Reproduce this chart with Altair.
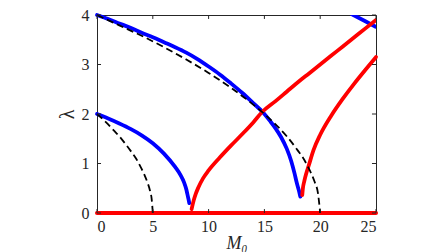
import altair as alt
import pandas as pd

# ---- data ----
blue_low_m = [0, 1, 2, 3, 4, 5, 6, 7, 7.5, 7.8, 8.0, 8.1, 8.2, 8.27]
blue_low_l = [2.0, 1.91, 1.81, 1.70, 1.57, 1.41, 1.20, 0.93, 0.76, 0.62, 0.48, 0.38, 0.28, 0.20]

blue_up_m = [0, 1, 2, 3, 4, 5, 6, 7, 8, 9, 10, 11, 12, 13, 14, 14.8, 15.5, 16, 16.5,
             17, 17.4, 17.7, 17.9, 18.06, 18.15, 18.22]
blue_up_l = [4.0, 3.92, 3.83, 3.74, 3.64, 3.55, 3.45, 3.35, 3.24, 3.11, 2.96, 2.80, 2.62,
             2.43, 2.22, 2.05, 1.86, 1.71, 1.53, 1.30, 1.05, 0.80, 0.61, 0.48, 0.40, 0.33]

blue_top_m = [22.8, 24, 25]
blue_top_l = [4.02, 3.88, 3.76]

red1_m = [8.48, 8.57, 8.66, 8.84, 9.07, 9.5, 10, 11, 12, 13, 14, 14.8, 16, 17, 18, 19,
          20, 21, 22, 23, 24, 25]
red1_l = [0.08, 0.17, 0.25, 0.38, 0.51, 0.70, 0.86, 1.12, 1.36, 1.59, 1.83, 2.04, 2.26,
          2.45, 2.64, 2.82, 3.00, 3.18, 3.36, 3.54, 3.72, 3.90]

red2_m = [18.39, 18.45, 18.57, 18.75, 18.96, 19.4, 20, 21, 22, 23, 24, 25]
red2_l = [0.36, 0.50, 0.64, 0.80, 0.95, 1.27, 1.58, 1.97, 2.30, 2.60, 2.88, 3.15]

red0_m = [0, 25]
red0_l = [0, 0]

dash_low_m = [0, 0.5, 1, 1.5, 2, 2.5, 3, 3.5, 4, 4.25, 4.5, 4.75, 4.9, 5]
dash_low_l = [2.0, 1.90, 1.79, 1.67, 1.55, 1.41, 1.26, 1.10, 0.89, 0.77, 0.63, 0.45, 0.28, 0.0]

dash_up_m = [0, 2, 4, 6, 8, 10, 12, 14, 15, 16, 17, 18, 18.5, 19, 19.5, 19.8, 20]
dash_up_l = [4.0, 3.79, 3.58, 3.35, 3.10, 2.83, 2.53, 2.19, 2.0, 1.79, 1.55, 1.26, 1.10,
             0.89, 0.63, 0.40, 0.0]

x_ticks = [0, 5, 10, 15, 20, 25]
y_ticks = [0, 1, 2, 3, 4]

AX = "#262626"
FONT = "'Liberation Serif', 'Times New Roman', Times, serif"

xs = alt.Scale(domain=[0, 25], nice=False, zero=False)
ys = alt.Scale(domain=[0, 4], nice=False, zero=False)

x_axis = alt.Axis(values=x_ticks, format="d", title="M₀", tickSize=0, labelPadding=5,
                  titlePadding=0, titleFontStyle="italic", titleFontWeight="normal",
                  grid=False, domain=False, labelFont=FONT, labelFontSize=16,
                  labelColor=AX, titleFont=FONT, titleFontSize=18, titleColor=AX)
y_axis = alt.Axis(values=y_ticks, format="d", title="λ", tickSize=0, labelPadding=8,
                  titlePadding=4, titleFontWeight="normal", grid=False, domain=False,
                  labelFont=FONT, labelFontSize=16, labelColor=AX, titleFont=FONT,
                  titleFontSize=20, titleColor=AX)


def df(m, l):
    return pd.DataFrame({"M0": m, "lam": l})


def curve(m, l, color, width=3.8, dash=None, clip=False):
    kw = dict(color=color, strokeWidth=width, clip=clip, strokeCap="round",
              interpolate="monotone")
    if dash:
        kw["strokeDash"] = dash
        kw["strokeCap"] = "butt"
    return alt.Chart(df(m, l)).mark_line(**kw).encode(
        x=alt.X("M0:Q", scale=xs, axis=x_axis),
        y=alt.Y("lam:Q", scale=ys, axis=y_axis),
        order=alt.Order("M0:Q"),
    )


# inward ticks (MATLAB style), drawn through the scales
tb = pd.DataFrame({"M0": x_ticks})
tick_bottom = alt.Chart(tb).mark_rule(color=AX, strokeWidth=1).encode(
    x=alt.X("M0:Q", scale=xs), y=alt.datum(0), y2=alt.datum(0.08))
tick_top = alt.Chart(tb).mark_rule(color=AX, strokeWidth=1).encode(
    x=alt.X("M0:Q", scale=xs), y=alt.datum(4), y2=alt.datum(3.92))
tl = pd.DataFrame({"lam": y_ticks})
tick_left = alt.Chart(tl).mark_rule(color=AX, strokeWidth=1).encode(
    y=alt.Y("lam:Q", scale=ys), x=alt.datum(0), x2=alt.datum(0.36))
tick_right = alt.Chart(tl).mark_rule(color=AX, strokeWidth=1).encode(
    y=alt.Y("lam:Q", scale=ys), x=alt.datum(25), x2=alt.datum(24.64))

BLUE = "#0000ff"
RED = "#ff0000"

chart = alt.layer(
    curve(blue_low_m, blue_low_l, BLUE),
    curve(blue_up_m, blue_up_l, BLUE),
    curve(blue_top_m, blue_top_l, BLUE, clip=True),
    curve(red1_m, red1_l, RED, clip=True),
    curve(red2_m, red2_l, RED),
    curve(red0_m, red0_l, RED, width=4),
    curve(dash_low_m, dash_low_l, "#000000", width=1.8, dash=[7, 4]),
    curve(dash_up_m, dash_up_l, "#000000", width=1.8, dash=[7, 4]),
    tick_bottom, tick_top, tick_left, tick_right,
).properties(
    width=279, height=198,
    autosize=alt.AutoSizeParams(type="none"),
    padding={"left": 89, "top": 7, "right": 60, "bottom": 45},
).configure_view(
    stroke=AX, strokeWidth=1
)

chart.save("out.html", embed_options={"renderer": "svg", "actions": False})
